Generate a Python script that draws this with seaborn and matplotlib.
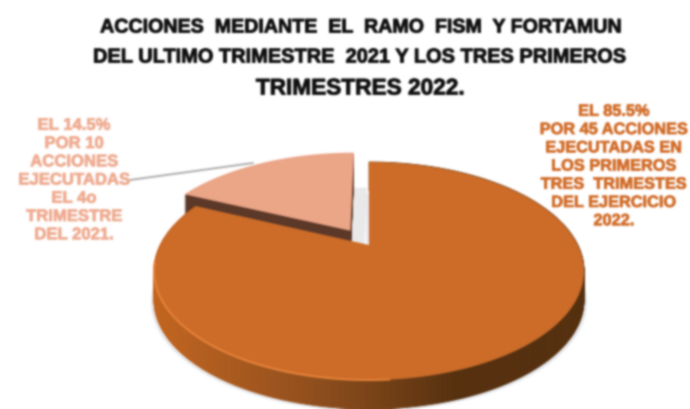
import matplotlib
matplotlib.use("Agg")
import matplotlib.pyplot as plt
import matplotlib.patheffects as pe
from matplotlib.collections import PolyCollection
from matplotlib.colors import LinearSegmentedColormap
from matplotlib.patches import Polygon, Rectangle
import numpy as np
import seaborn as sns

sns.set_theme(style="white")
plt.rcParams['font.family'] = ['Liberation Sans', 'DejaVu Sans']

title_lines = ["ACCIONES  MEDIANTE  EL  RAMO  FISM  Y FORTAMUN",
               "DEL ULTIMO TRIMESTRE  2021 Y LOS TRES PRIMEROS",
               "TRIMESTRES 2022."]
slice_labels = ["EL 14.5%\nPOR 10\nACCIONES\nEJECUTADAS\nEL 4o\nTRIMESTRE\nDEL 2021.",
                "EL 85.5%\nPOR 45 ACCIONES\nEJECUTADAS EN\nLOS PRIMEROS\nTRES  TRIMESTES\nDEL EJERCICIO\n2022."]
acciones = [10, 45]
top_colors = ["#EBA587", "#CC6C28"]
label_colors = ["#EFAB90", "#D26C28"]

W, H = 690, 409
fig = plt.figure(figsize=(W/100, H/100), dpi=100, facecolor="white")
ax = fig.add_axes([0, 0, 1, 1])

# Let the pie compute the wedge geometry, then show it in perspective
wedges, _ = ax.pie(acciones, startangle=90, explode=[0.17, 0], radius=1)
geom = [(w.theta1, w.theta2, w.center, w.r) for w in wedges]
for w in wedges:
    w.remove()
ax.set_aspect("auto")
ax.set_xlim(0, W)
ax.set_ylim(H, 0)
ax.axis("off")

cx, cy, rx, ry, k, depth = 369, 245, 208.8, 102.8, 0.2385, 29


def project(x, y):
    s = 1 / (1 + k * y)
    return cx + rx * x * s, cy - ry * y * s


def wedge_points(theta1, theta2, center, r):
    t = np.radians(np.linspace(theta1, theta2, 400))
    x = np.r_[center[0], center[0] + r * np.cos(t)]
    y = np.r_[center[1], center[1] + r * np.sin(t)]
    X, Y = project(x, y)
    return np.column_stack([X, Y])


small = wedge_points(*geom[0])
big = wedge_points(*geom[1])

ax.add_patch(Rectangle((0, 0), W, H, color="white", lw=0, zorder=0))

# soft shadows
for dx in (-3, 3):
    ax.add_patch(Polygon(big + [dx, depth + 2], closed=True, fc="#E6E8EC", lw=0, zorder=1))
ax.add_patch(Polygon(small + [13, 35], closed=True, fc="#E9E9E9", lw=0, zorder=1))

# leader line
ax.plot([130, 253], [180, 163], color="#A8A8A8", lw=1.3, zorder=2)

# small slice: side, then top
for d in range(depth, 0, -1):
    ax.add_patch(Polygon(small + [0, d], closed=True, fc="#5B3828", lw=0, zorder=3))
ax.add_patch(Polygon(small, closed=True, fc=top_colors[0], lw=0, zorder=4))

# big slice: side with shading from left to right, then top
side_cmap = LinearSegmentedColormap.from_list(
    "side", [(0.0, "#C2651F"), (0.33, "#96511E"), (0.5, "#7A4418"), (0.7, "#56300F"), (1.0, "#55300F")])
arc = big[1:]
quads = [[arc[i], arc[i + 1], arc[i + 1] + [0, depth], arc[i] + [0, depth]] for i in range(len(arc) - 1)]
shade = (arc[:-1, 0] - arc[:, 0].min()) / np.ptp(arc[:, 0])
side = side_cmap(shade)
ax.add_collection(PolyCollection(quads, facecolors=side, edgecolors=side, linewidths=0.6, zorder=5))
ax.add_patch(Polygon(big, closed=True, fc=top_colors[1], lw=0, zorder=6))

# light rim on the lower left edge of the top
rim = arc[(arc[:, 0] < 390) & (arc[:, 1] > 262)]
ax.plot(rim[:, 0], rim[:, 1], color="#E8843A", lw=1.4, zorder=7)


def heavy(color, width=0.5):
    return [pe.withStroke(linewidth=width, foreground=color)]


# text
title_y = [27, 57, 88]
title_size = [14.15, 14.4, 16.3]
for line, y, size in zip(title_lines, title_y, title_size):
    ax.text(360, y, line, ha="center", va="center", fontsize=size, fontweight="bold",
            color="#111111", zorder=10, path_effects=heavy("#111111", 0.6))
ax.text(74, 180, slice_labels[0], ha="center", va="center", fontsize=12, fontweight="bold",
        color=label_colors[0], linespacing=1.27, zorder=10, path_effects=heavy(label_colors[0]))
ax.text(614, 166, slice_labels[1], ha="center", va="center", fontsize=11.75, fontweight="bold",
        color=label_colors[1], linespacing=1.27, zorder=10, path_effects=heavy(label_colors[1]))


def soften(img, dpi):
    kernel = np.array([0.06, 0.24, 0.4, 0.24, 0.06])
    out = np.pad(img, ((2, 2), (2, 2), (0, 0)), mode="edge")
    for axis in (0, 1):
        out = np.apply_along_axis(lambda v: np.convolve(v, kernel, mode="same"), axis, out)
    return out[2:-2, 2:-2], 0, 0


ax.set_agg_filter(soften)
fig.savefig("out.png", dpi=100)
